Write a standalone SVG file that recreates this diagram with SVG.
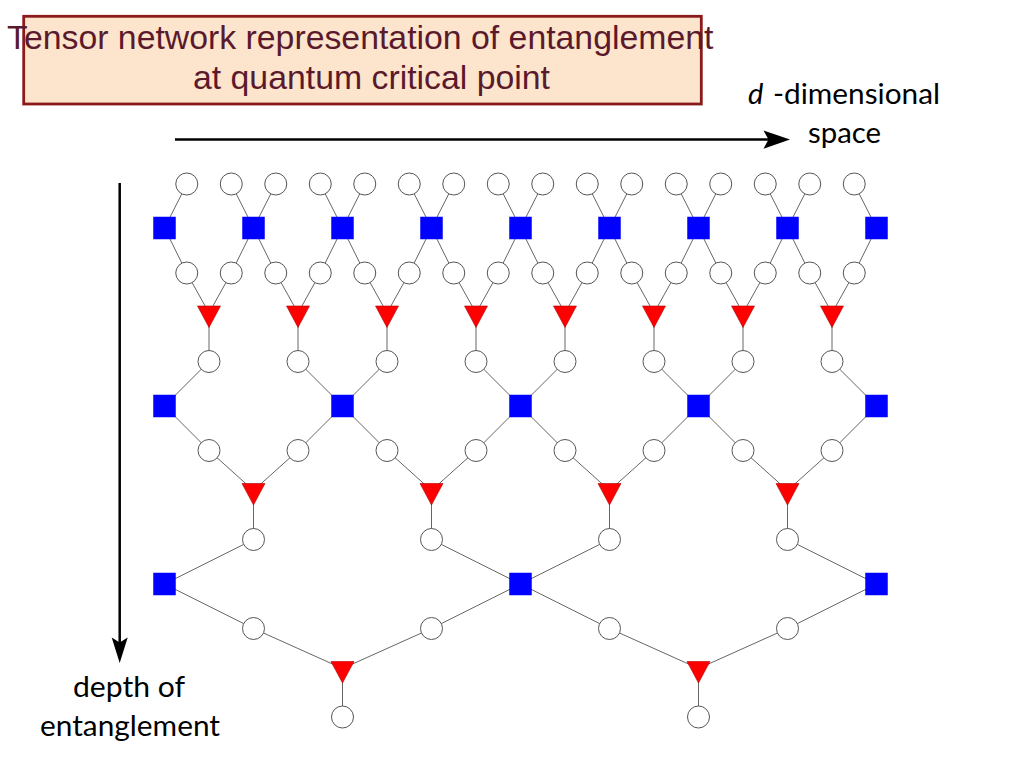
<svg xmlns="http://www.w3.org/2000/svg" xmlns:xlink="http://www.w3.org/1999/xlink" width="1024" height="768" viewBox="0 0 1024 768">
<style>
.e{stroke:#666;stroke-width:1;fill:none}
.ax{stroke:#000;stroke-width:2.5;fill:none}
.title{font-family:"Liberation Sans",Arial,sans-serif;font-size:33.8px;fill:#5a1a2c}
.lab{font-family:Lato,"Open Sans",sans-serif;font-size:29px;fill:#000}
</style>
<defs>
<circle id="ci" r="11" fill="#fff" stroke="#555" stroke-width="1"/>
<rect id="sq" x="-11.25" y="-11.25" width="22.5" height="22.5" fill="#0000ff"/>
<path id="tr" d="M-11.5,0 H11.5 L0,21.5 Z" fill="#ff0000" stroke="#b00000" stroke-width="0.6"/>
</defs>
<rect width="1024" height="768" fill="#fff"/>

<g id="title">
<rect x="23.7" y="16.3" width="677.6" height="87.7" fill="#fde5cd" stroke="#8b1a1a" stroke-width="2.8"/>
<text class="title" x="7" y="49.3">Tensor network representation of entanglement</text>
<text class="title" x="193" y="89.3">at quantum critical point</text>
</g>

<g id="axes">
<g id="space-axis">
<line class="ax" x1="175" y1="139.6" x2="770" y2="139.6"/>
<path d="M790,139.6 L763.5,130.5 L768.5,139.6 L763.5,148.7 Z" fill="#000"/>
<text class="lab" x="748" y="104" font-style="italic">d</text>
<text class="lab" x="773" y="104" textLength="167" lengthAdjust="spacingAndGlyphs">-dimensional</text>
<text class="lab" x="808" y="143" textLength="73" lengthAdjust="spacingAndGlyphs">space</text>
</g>
<g id="depth-axis">
<line class="ax" x1="119.7" y1="183" x2="119.7" y2="645"/>
<path d="M119.7,663 L111.7,637.5 L119.7,642.5 L127.7,637.5 Z" fill="#000"/>
<text class="lab" x="73" y="697" textLength="112" lengthAdjust="spacingAndGlyphs">depth of</text>
<text class="lab" x="40" y="735.5" textLength="180" lengthAdjust="spacingAndGlyphs">entanglement</text>
</g>
</g>

<g id="connectors" class="e">
<!-- L1 A: sites to disentanglers -->
<line x1="186.75" y1="184" x2="164.5" y2="228"/>
<line x1="231.25" y1="184" x2="253.5" y2="228"/>
<line x1="275.75" y1="184" x2="253.5" y2="228"/>
<line x1="320.25" y1="184" x2="342.5" y2="228"/>
<line x1="364.75" y1="184" x2="342.5" y2="228"/>
<line x1="409.25" y1="184" x2="431.5" y2="228"/>
<line x1="453.75" y1="184" x2="431.5" y2="228"/>
<line x1="498.25" y1="184" x2="520.5" y2="228"/>
<line x1="542.75" y1="184" x2="520.5" y2="228"/>
<line x1="587.25" y1="184" x2="609.5" y2="228"/>
<line x1="631.75" y1="184" x2="609.5" y2="228"/>
<line x1="676.25" y1="184" x2="698.5" y2="228"/>
<line x1="720.75" y1="184" x2="698.5" y2="228"/>
<line x1="765.25" y1="184" x2="787.5" y2="228"/>
<line x1="809.75" y1="184" x2="787.5" y2="228"/>
<line x1="854.25" y1="184" x2="876.5" y2="228"/>
<!-- L1 B -->
<line x1="164.5" y1="228" x2="186.75" y2="273"/>
<line x1="253.5" y1="228" x2="231.25" y2="273"/>
<line x1="253.5" y1="228" x2="275.75" y2="273"/>
<line x1="342.5" y1="228" x2="320.25" y2="273"/>
<line x1="342.5" y1="228" x2="364.75" y2="273"/>
<line x1="431.5" y1="228" x2="409.25" y2="273"/>
<line x1="431.5" y1="228" x2="453.75" y2="273"/>
<line x1="520.5" y1="228" x2="498.25" y2="273"/>
<line x1="520.5" y1="228" x2="542.75" y2="273"/>
<line x1="609.5" y1="228" x2="587.25" y2="273"/>
<line x1="609.5" y1="228" x2="631.75" y2="273"/>
<line x1="698.5" y1="228" x2="676.25" y2="273"/>
<line x1="698.5" y1="228" x2="720.75" y2="273"/>
<line x1="787.5" y1="228" x2="765.25" y2="273"/>
<line x1="787.5" y1="228" x2="809.75" y2="273"/>
<line x1="876.5" y1="228" x2="854.25" y2="273"/>
<!-- L1 C -->
<line x1="186.75" y1="273" x2="209" y2="313"/>
<line x1="231.25" y1="273" x2="209" y2="313"/>
<line x1="275.75" y1="273" x2="298" y2="313"/>
<line x1="320.25" y1="273" x2="298" y2="313"/>
<line x1="364.75" y1="273" x2="387" y2="313"/>
<line x1="409.25" y1="273" x2="387" y2="313"/>
<line x1="453.75" y1="273" x2="476" y2="313"/>
<line x1="498.25" y1="273" x2="476" y2="313"/>
<line x1="542.75" y1="273" x2="565" y2="313"/>
<line x1="587.25" y1="273" x2="565" y2="313"/>
<line x1="631.75" y1="273" x2="654" y2="313"/>
<line x1="676.25" y1="273" x2="654" y2="313"/>
<line x1="720.75" y1="273" x2="743" y2="313"/>
<line x1="765.25" y1="273" x2="743" y2="313"/>
<line x1="809.75" y1="273" x2="832" y2="313"/>
<line x1="854.25" y1="273" x2="832" y2="313"/>
<!-- L1 D -->
<line x1="209" y1="320" x2="209" y2="361.5"/>
<line x1="298" y1="320" x2="298" y2="361.5"/>
<line x1="387" y1="320" x2="387" y2="361.5"/>
<line x1="476" y1="320" x2="476" y2="361.5"/>
<line x1="565" y1="320" x2="565" y2="361.5"/>
<line x1="654" y1="320" x2="654" y2="361.5"/>
<line x1="743" y1="320" x2="743" y2="361.5"/>
<line x1="832" y1="320" x2="832" y2="361.5"/>
<!-- L2 A -->
<line x1="209" y1="361.5" x2="164.5" y2="406"/>
<line x1="298" y1="361.5" x2="342.5" y2="406"/>
<line x1="387" y1="361.5" x2="342.5" y2="406"/>
<line x1="476" y1="361.5" x2="520.5" y2="406"/>
<line x1="565" y1="361.5" x2="520.5" y2="406"/>
<line x1="654" y1="361.5" x2="698.5" y2="406"/>
<line x1="743" y1="361.5" x2="698.5" y2="406"/>
<line x1="832" y1="361.5" x2="876.5" y2="406"/>
<!-- L2 B -->
<line x1="164.5" y1="406" x2="209" y2="450.5"/>
<line x1="342.5" y1="406" x2="298" y2="450.5"/>
<line x1="342.5" y1="406" x2="387" y2="450.5"/>
<line x1="520.5" y1="406" x2="476" y2="450.5"/>
<line x1="520.5" y1="406" x2="565" y2="450.5"/>
<line x1="698.5" y1="406" x2="654" y2="450.5"/>
<line x1="698.5" y1="406" x2="743" y2="450.5"/>
<line x1="876.5" y1="406" x2="832" y2="450.5"/>
<!-- L2 C -->
<line x1="209" y1="450.5" x2="253.5" y2="490.5"/>
<line x1="298" y1="450.5" x2="253.5" y2="490.5"/>
<line x1="387" y1="450.5" x2="431.5" y2="490.5"/>
<line x1="476" y1="450.5" x2="431.5" y2="490.5"/>
<line x1="565" y1="450.5" x2="609.5" y2="490.5"/>
<line x1="654" y1="450.5" x2="609.5" y2="490.5"/>
<line x1="743" y1="450.5" x2="787.5" y2="490.5"/>
<line x1="832" y1="450.5" x2="787.5" y2="490.5"/>
<!-- L2 D -->
<line x1="253.5" y1="497" x2="253.5" y2="539.5"/>
<line x1="431.5" y1="497" x2="431.5" y2="539.5"/>
<line x1="609.5" y1="497" x2="609.5" y2="539.5"/>
<line x1="787.5" y1="497" x2="787.5" y2="539.5"/>
<!-- L3 A -->
<line x1="253.5" y1="539.5" x2="164.5" y2="584"/>
<line x1="431.5" y1="539.5" x2="520.5" y2="584"/>
<line x1="609.5" y1="539.5" x2="520.5" y2="584"/>
<line x1="787.5" y1="539.5" x2="876.5" y2="584"/>
<!-- L3 B -->
<line x1="164.5" y1="584" x2="253.5" y2="628.5"/>
<line x1="520.5" y1="584" x2="431.5" y2="628.5"/>
<line x1="520.5" y1="584" x2="609.5" y2="628.5"/>
<line x1="876.5" y1="584" x2="787.5" y2="628.5"/>
<!-- L3 C -->
<line x1="253.5" y1="628.5" x2="342.5" y2="668.5"/>
<line x1="431.5" y1="628.5" x2="342.5" y2="668.5"/>
<line x1="609.5" y1="628.5" x2="698.5" y2="668.5"/>
<line x1="787.5" y1="628.5" x2="698.5" y2="668.5"/>
<!-- L3 D -->
<line x1="342.5" y1="675" x2="342.5" y2="717"/>
<line x1="698.5" y1="675" x2="698.5" y2="717"/>
</g>

<g id="nodes">
<!-- level 1 input sites -->
<g id="site-0"><use href="#ci" x="186.75" y="184"/></g>
<g id="site-1"><use href="#ci" x="231.25" y="184"/></g>
<g id="site-2"><use href="#ci" x="275.75" y="184"/></g>
<g id="site-3"><use href="#ci" x="320.25" y="184"/></g>
<g id="site-4"><use href="#ci" x="364.75" y="184"/></g>
<g id="site-5"><use href="#ci" x="409.25" y="184"/></g>
<g id="site-6"><use href="#ci" x="453.75" y="184"/></g>
<g id="site-7"><use href="#ci" x="498.25" y="184"/></g>
<g id="site-8"><use href="#ci" x="542.75" y="184"/></g>
<g id="site-9"><use href="#ci" x="587.25" y="184"/></g>
<g id="site-10"><use href="#ci" x="631.75" y="184"/></g>
<g id="site-11"><use href="#ci" x="676.25" y="184"/></g>
<g id="site-12"><use href="#ci" x="720.75" y="184"/></g>
<g id="site-13"><use href="#ci" x="765.25" y="184"/></g>
<g id="site-14"><use href="#ci" x="809.75" y="184"/></g>
<g id="site-15"><use href="#ci" x="854.25" y="184"/></g>
<!-- level 1 disentanglers -->
<g id="u1-0"><use href="#sq" x="164.5" y="228"/></g>
<g id="u1-1"><use href="#sq" x="253.5" y="228"/></g>
<g id="u1-2"><use href="#sq" x="342.5" y="228"/></g>
<g id="u1-3"><use href="#sq" x="431.5" y="228"/></g>
<g id="u1-4"><use href="#sq" x="520.5" y="228"/></g>
<g id="u1-5"><use href="#sq" x="609.5" y="228"/></g>
<g id="u1-6"><use href="#sq" x="698.5" y="228"/></g>
<g id="u1-7"><use href="#sq" x="787.5" y="228"/></g>
<g id="u1-8"><use href="#sq" x="876.5" y="228"/></g>
<!-- level 1 middle sites -->
<g id="m1-0"><use href="#ci" x="186.75" y="273"/></g>
<g id="m1-1"><use href="#ci" x="231.25" y="273"/></g>
<g id="m1-2"><use href="#ci" x="275.75" y="273"/></g>
<g id="m1-3"><use href="#ci" x="320.25" y="273"/></g>
<g id="m1-4"><use href="#ci" x="364.75" y="273"/></g>
<g id="m1-5"><use href="#ci" x="409.25" y="273"/></g>
<g id="m1-6"><use href="#ci" x="453.75" y="273"/></g>
<g id="m1-7"><use href="#ci" x="498.25" y="273"/></g>
<g id="m1-8"><use href="#ci" x="542.75" y="273"/></g>
<g id="m1-9"><use href="#ci" x="587.25" y="273"/></g>
<g id="m1-10"><use href="#ci" x="631.75" y="273"/></g>
<g id="m1-11"><use href="#ci" x="676.25" y="273"/></g>
<g id="m1-12"><use href="#ci" x="720.75" y="273"/></g>
<g id="m1-13"><use href="#ci" x="765.25" y="273"/></g>
<g id="m1-14"><use href="#ci" x="809.75" y="273"/></g>
<g id="m1-15"><use href="#ci" x="854.25" y="273"/></g>
<!-- level 1 isometries -->
<g id="w1-0"><use href="#tr" x="209" y="306"/></g>
<g id="w1-1"><use href="#tr" x="298" y="306"/></g>
<g id="w1-2"><use href="#tr" x="387" y="306"/></g>
<g id="w1-3"><use href="#tr" x="476" y="306"/></g>
<g id="w1-4"><use href="#tr" x="565" y="306"/></g>
<g id="w1-5"><use href="#tr" x="654" y="306"/></g>
<g id="w1-6"><use href="#tr" x="743" y="306"/></g>
<g id="w1-7"><use href="#tr" x="832" y="306"/></g>
<!-- level 1 outputs -->
<g id="o1-0"><use href="#ci" x="209" y="361.5"/></g>
<g id="o1-1"><use href="#ci" x="298" y="361.5"/></g>
<g id="o1-2"><use href="#ci" x="387" y="361.5"/></g>
<g id="o1-3"><use href="#ci" x="476" y="361.5"/></g>
<g id="o1-4"><use href="#ci" x="565" y="361.5"/></g>
<g id="o1-5"><use href="#ci" x="654" y="361.5"/></g>
<g id="o1-6"><use href="#ci" x="743" y="361.5"/></g>
<g id="o1-7"><use href="#ci" x="832" y="361.5"/></g>
<!-- level 2 -->
<g id="u2-0"><use href="#sq" x="164.5" y="406"/></g>
<g id="u2-1"><use href="#sq" x="342.5" y="406"/></g>
<g id="u2-2"><use href="#sq" x="520.5" y="406"/></g>
<g id="u2-3"><use href="#sq" x="698.5" y="406"/></g>
<g id="u2-4"><use href="#sq" x="876.5" y="406"/></g>
<g id="m2-0"><use href="#ci" x="209" y="450.5"/></g>
<g id="m2-1"><use href="#ci" x="298" y="450.5"/></g>
<g id="m2-2"><use href="#ci" x="387" y="450.5"/></g>
<g id="m2-3"><use href="#ci" x="476" y="450.5"/></g>
<g id="m2-4"><use href="#ci" x="565" y="450.5"/></g>
<g id="m2-5"><use href="#ci" x="654" y="450.5"/></g>
<g id="m2-6"><use href="#ci" x="743" y="450.5"/></g>
<g id="m2-7"><use href="#ci" x="832" y="450.5"/></g>
<g id="w2-0"><use href="#tr" x="253.5" y="483.5"/></g>
<g id="w2-1"><use href="#tr" x="431.5" y="483.5"/></g>
<g id="w2-2"><use href="#tr" x="609.5" y="483.5"/></g>
<g id="w2-3"><use href="#tr" x="787.5" y="483.5"/></g>
<g id="o2-0"><use href="#ci" x="253.5" y="539.5"/></g>
<g id="o2-1"><use href="#ci" x="431.5" y="539.5"/></g>
<g id="o2-2"><use href="#ci" x="609.5" y="539.5"/></g>
<g id="o2-3"><use href="#ci" x="787.5" y="539.5"/></g>
<!-- level 3 -->
<g id="u3-0"><use href="#sq" x="164.5" y="584"/></g>
<g id="u3-1"><use href="#sq" x="520.5" y="584"/></g>
<g id="u3-2"><use href="#sq" x="876.5" y="584"/></g>
<g id="m3-0"><use href="#ci" x="253.5" y="628.5"/></g>
<g id="m3-1"><use href="#ci" x="431.5" y="628.5"/></g>
<g id="m3-2"><use href="#ci" x="609.5" y="628.5"/></g>
<g id="m3-3"><use href="#ci" x="787.5" y="628.5"/></g>
<g id="w3-0"><use href="#tr" x="342.5" y="661.5"/></g>
<g id="w3-1"><use href="#tr" x="698.5" y="661.5"/></g>
<g id="o3-0"><use href="#ci" x="342.5" y="717"/></g>
<g id="o3-1"><use href="#ci" x="698.5" y="717"/></g>
</g>
</svg>
